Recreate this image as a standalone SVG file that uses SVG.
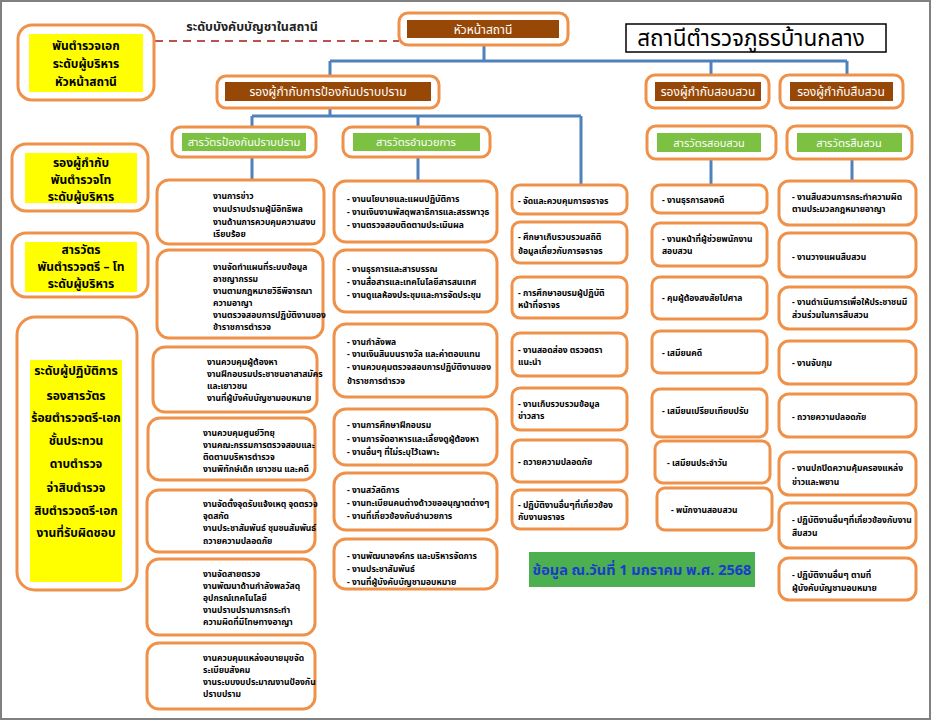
<svg xmlns="http://www.w3.org/2000/svg" width="934" height="721" viewBox="0 0 934 721">
<style>
text{font-family:"Noto Sans Thai","Noto Sans","DejaVu Sans",sans-serif;}
.ob{fill:#fff;stroke:#f0914a;stroke-width:3;}
.brown{fill:#974806;}
.green{fill:#7cc142;}
.yel{fill:#ffff00;}
.hw{fill:#fff;font-size:12px;text-anchor:middle;}
.gw{fill:#fff;font-size:11px;text-anchor:middle;}
.yt{fill:#000;font-size:12px;font-weight:bold;text-anchor:middle;}
.it{fill:#000;font-size:8.5px;font-weight:bold;}
.con{fill:none;stroke:#4f81bd;stroke-width:3;}
</style>
<rect x="1" y="1" width="929" height="718" fill="#fff" stroke="#808080" stroke-width="2"/>

<g id="connectors">
<path class="con" d="M484 45V61M330 61H847M330 61V77M711 61V76M847 61V76"/>
<path class="con" d="M330 108V116M252 116H581M252 116V127M418 116V127M581 116V185"/>
<path class="con" d="M252 157V180M418 157V181M711 159V185M852 159V181"/>
<path d="M155 41H399" fill="none" stroke="#c0504d" stroke-width="2" stroke-dasharray="8,6"/>
</g>

<g id="label-command">
<text x="252" y="31" font-size="12.5" font-weight="bold" text-anchor="middle" fill="#222">ระดับบังคับบัญชาในสถานี</text>
</g>

<g id="title">
<rect x="626" y="24" width="260" height="28" fill="#fff" stroke="#000" stroke-width="1.5"/>
<text x="751" y="46" font-size="22.5" text-anchor="middle" fill="#000">สถานีตำรวจภูธรบ้านกลาง</text>
</g>

<g id="rank-1">
<rect class="ob" x="18" y="25" width="136" height="75" rx="14"/>
<rect class="yel" x="29" y="34" width="114" height="58"/>
<text class="yt" x="86" y="50">พันตำรวจเอก</text>
<text class="yt" x="86" y="68">ระดับผู้บริหาร</text>
<text class="yt" x="86" y="86">หัวหน้าสถานี</text>
</g>

<g id="head">
<rect class="ob" x="399" y="13" width="169" height="32" rx="9"/>
<rect class="brown" x="407" y="20" width="152" height="18"/>
<text class="hw" x="483" y="34">หัวหน้าสถานี</text>
</g>

<g id="dep-prevent">
<rect class="ob" x="217" y="76" width="222" height="32" rx="9"/>
<rect class="brown" x="225" y="82" width="206" height="19"/>
<text class="hw" x="328" y="96">รองผู้กำกับการป้องกันปราบปราม</text>
</g>
<g id="dep-inquiry">
<rect class="ob" x="646" y="75" width="123" height="33" rx="9"/>
<rect class="brown" x="655" y="82" width="106" height="19"/>
<text class="hw" x="708" y="96">รองผู้กำกับสอบสวน</text>
</g>
<g id="dep-investigate">
<rect class="ob" x="780" y="75" width="123" height="33" rx="9"/>
<rect class="brown" x="790" y="82" width="103" height="19"/>
<text class="hw" x="841" y="96">รองผู้กำกับสืบสวน</text>
</g>

<g id="insp-prevent">
<rect class="ob" x="172" y="127" width="144" height="30" rx="9"/>
<rect class="green" x="182" y="133" width="124" height="18"/>
<text class="gw" x="244" y="146">สารวัตรป้องกันปราบปราม</text>
</g>
<g id="insp-admin">
<rect class="ob" x="343" y="127" width="147" height="30" rx="9"/>
<rect class="green" x="353" y="133" width="127" height="18"/>
<text class="gw" x="416" y="146">สารวัตรอำนวยการ</text>
</g>
<g id="insp-inquiry">
<rect class="ob" x="647" y="126" width="129" height="33" rx="9"/>
<rect class="green" x="657" y="133" width="104" height="19"/>
<text class="gw" x="709" y="147">สารวัตรสอบสวน</text>
</g>
<g id="insp-investigate">
<rect class="ob" x="787" y="126" width="125" height="33" rx="9"/>
<rect class="green" x="797" y="133" width="105" height="19"/>
<text class="gw" x="849" y="147">สารวัตรสืบสวน</text>
</g>

<g id="rank-2">
<rect class="ob" x="12" y="144" width="136" height="67" rx="14"/>
<rect class="yel" x="25" y="153" width="112" height="50"/>
<text class="yt" x="81" y="167">รองผู้กำกับ</text>
<text class="yt" x="81" y="184">พันตำรวจโท</text>
<text class="yt" x="81" y="201">ระดับผู้บริหาร</text>
</g>
<g id="rank-3">
<rect class="ob" x="12" y="233" width="136" height="64" rx="14"/>
<rect class="yel" x="25" y="242" width="112" height="50"/>
<text class="yt" x="81" y="254">สารวัตร</text>
<text class="yt" x="81" y="271">พันตำรวจตรี – โท</text>
<text class="yt" x="81" y="288">ระดับผู้บริหาร</text>
</g>
<g id="rank-4">
<rect class="ob" x="17" y="317" width="120" height="273" rx="18"/>
<rect class="yel" x="30" y="360" width="92" height="222"/>
<text class="yt" x="76" y="375">ระดับผู้ปฏิบัติการ</text>
<text class="yt" x="76" y="400">รองสารวัตร</text>
<text class="yt" x="76" y="422">ร้อยตำรวจตรี-เอก</text>
<text class="yt" x="76" y="445">ชั้นประทวน</text>
<text class="yt" x="76" y="468">ดาบตำรวจ</text>
<text class="yt" x="76" y="492">จ่าสิบตำรวจ</text>
<text class="yt" x="76" y="515">สิบตำรวจตรี-เอก</text>
<text class="yt" x="76" y="537">งานที่รับผิดชอบ</text>
</g>

<g id="p1"><rect class="ob" x="157" y="180" width="167" height="64" rx="12"/>
<text class="it" x="213" y="199">งานการข่าว</text><text class="it" x="213" y="212">งานปราบปรามผู้มีอิทธิพล</text><text class="it" x="213" y="225">งานด้านการควบคุมความสงบ</text><text class="it" x="213" y="237">เรียบร้อย</text></g>
<g id="p2"><rect class="ob" x="157" y="250" width="166" height="88" rx="12"/>
<text class="it" x="213" y="270">งานจัดทำแผนที่ระบบข้อมูล</text><text class="it" x="213" y="282">อาชญากรรม</text><text class="it" x="213" y="294">งานตามกฎหมายวิธีพิจารณา</text><text class="it" x="213" y="306">ความอาญา</text><text class="it" x="213" y="318">งานตรวจสอบการปฏิบัติงานของ</text><text class="it" x="213" y="330">ข้าราชการตำรวจ</text></g>
<g id="p3"><rect class="ob" x="153" y="347" width="164" height="65" rx="12"/>
<text class="it" x="207" y="365">งานควบคุมผู้ต้องหา</text><text class="it" x="207" y="377">งานฝึกอบรมประชาชนอาสาสมัคร</text><text class="it" x="207" y="389">และเยาวชน</text><text class="it" x="207" y="401">งานที่ผู้บังคับบัญชามอบหมาย</text></g>
<g id="p4"><rect class="ob" x="148" y="418" width="167" height="62" rx="12"/>
<text class="it" x="203" y="436">งานควบคุมศูนย์วิทยุ</text><text class="it" x="203" y="448">งานคณะกรรมการตรวจสอบและ</text><text class="it" x="203" y="460">ติดตามบริหารตำรวจ</text><text class="it" x="203" y="472">งานพิทักษ์เด็ก เยาวชน และคดี</text></g>
<g id="p5"><rect class="ob" x="147" y="490" width="168" height="62" rx="12"/>
<text class="it" x="203" y="507">งานจัดตั้งจุดรับแจ้งเหตุ จุดตรวจ</text><text class="it" x="203" y="519">จุดสกัด</text><text class="it" x="203" y="531">งานประชาสัมพันธ์ ชุมชนสัมพันธ์</text><text class="it" x="203" y="544">ถวายความปลอดภัย</text></g>
<g id="p6"><rect class="ob" x="147" y="559" width="168" height="76" rx="12"/>
<text class="it" x="203" y="577">งานจัดสายตรวจ</text><text class="it" x="203" y="589">งานพัฒนาด้านกำลังพลวัสดุ</text><text class="it" x="203" y="601">อุปกรณ์เทคโนโลยี</text><text class="it" x="203" y="613">งานปราบปรามการกระทำ</text><text class="it" x="203" y="625">ความผิดที่มีโทษทางอาญา</text></g>
<g id="p7"><rect class="ob" x="147" y="643" width="168" height="66" rx="12"/>
<text class="it" x="203" y="661">งานควบคุมแหล่งอบายมุขจัด</text><text class="it" x="203" y="673">ระเบียบสังคม</text><text class="it" x="203" y="685">งานระบบงบประมาณงานป้องกัน</text><text class="it" x="203" y="697">ปราบปราม</text></g>

<g id="a1"><rect class="ob" x="334" y="181" width="163" height="61" rx="12"/>
<text class="it" x="347" y="202">- งานนโยบายและแผนปฏิบัติการ</text><text class="it" x="347" y="215">- งานเงินงานพัสดุพลาธิการและสรรพาวุธ</text><text class="it" x="347" y="228">- งานตรวจสอบติดตามประเมินผล</text></g>
<g id="a2"><rect class="ob" x="334" y="250" width="163" height="62" rx="12"/>
<text class="it" x="347" y="272">- งานธุรการและสารบรรณ</text><text class="it" x="347" y="285">- งานสื่อสารและเทคโนโลยีสารสนเทศ</text><text class="it" x="347" y="298">- งานดูแลห้องประชุมและการจัดประชุม</text></g>
<g id="a3"><rect class="ob" x="334" y="324" width="163" height="73" rx="12"/>
<text class="it" x="347" y="345">- งานกำลังพล</text><text class="it" x="347" y="357">- งานเงินสินบนรางวัล และค่าตอบแทน</text><text class="it" x="347" y="370">- งานควบคุมตรวจสอบการปฏิบัติงานของ</text><text class="it" x="347" y="384">ข้าราชการตำรวจ</text></g>
<g id="a4"><rect class="ob" x="334" y="409" width="163" height="56" rx="12"/>
<text class="it" x="347" y="428">- งานการศึกษาฝึกอบรม</text><text class="it" x="347" y="442">- งานการจัดอาหารและเลี้ยงดูผู้ต้องหา</text><text class="it" x="347" y="455">- งานอื่นๆ ที่ไม่ระบุไว้เฉพาะ</text></g>
<g id="a5"><rect class="ob" x="334" y="473" width="163" height="57" rx="12"/>
<text class="it" x="347" y="493">- งานสวัสดิการ</text><text class="it" x="347" y="506">- งานทะเบียนคนต่างด้าวขออนุญาตต่างๆ</text><text class="it" x="347" y="519">- งานที่เกี่ยวข้องกับอำนวยการ</text></g>
<g id="a6"><rect class="ob" x="334" y="539" width="163" height="50" rx="12"/>
<text class="it" x="347" y="559">- งานพัฒนาองค์กร และบริหารจัดการ</text><text class="it" x="347" y="572">- งานประชาสัมพันธ์</text><text class="it" x="347" y="585">- งานที่ผู้บังคับบัญชามอบหมาย</text></g>

<g id="t1"><rect class="ob" x="512" y="185" width="115" height="29" rx="8"/><text class="it" x="518" y="204">- จัดและควบคุมการจราจร</text></g>
<g id="t2"><rect class="ob" x="512" y="222" width="115" height="41" rx="8"/><text class="it" x="518" y="240">- ศึกษาเก็บรวบรวมสถิติ</text><text class="it" x="518" y="254">ข้อมูลเกี่ยวกับการจราจร</text></g>
<g id="t3"><rect class="ob" x="512" y="277" width="115" height="41" rx="8"/><text class="it" x="518" y="296">- การศึกษาอบรมผู้ปฏิบัติ</text><text class="it" x="518" y="308">หน้าที่จราจร</text></g>
<g id="t4"><rect class="ob" x="512" y="333" width="115" height="43" rx="8"/><text class="it" x="518" y="353">- งานสอดส่อง ตรวจตรา</text><text class="it" x="518" y="365">แนะนำ</text></g>
<g id="t5"><rect class="ob" x="512" y="388" width="115" height="42" rx="8"/><text class="it" x="518" y="407">- งานเก็บรวบรวมข้อมูล</text><text class="it" x="518" y="419">ข่าวสาร</text></g>
<g id="t6"><rect class="ob" x="512" y="440" width="115" height="42" rx="8"/><text class="it" x="518" y="465">- ถวายความปลอดภัย</text></g>
<g id="t7"><rect class="ob" x="512" y="490" width="115" height="39" rx="8"/><text class="it" x="518" y="508">- ปฏิบัติงานอื่นๆที่เกี่ยวข้อง</text><text class="it" x="518" y="520">กับงานจราจร</text></g>

<g id="s1"><rect class="ob" x="652" y="185" width="115" height="28" rx="8"/><text class="it" x="662" y="203">- งานธุรการลงคดี</text></g>
<g id="s2"><rect class="ob" x="652" y="223" width="115" height="43" rx="8"/><text class="it" x="662" y="242">- งานหน้าที่ผู้ช่วยพนักงาน</text><text class="it" x="662" y="254">สอบสวน</text></g>
<g id="s3"><rect class="ob" x="652" y="277" width="115" height="42" rx="8"/><text class="it" x="662" y="301">- คุมผู้ต้องสงสัยไปศาล</text></g>
<g id="s4"><rect class="ob" x="652" y="331" width="115" height="42" rx="8"/><text class="it" x="662" y="356">- เสมียนคดี</text></g>
<g id="s5"><rect class="ob" x="652" y="389" width="115" height="48" rx="8"/><text class="it" x="662" y="414">- เสมียนเปรียบเทียบปรับ</text></g>
<g id="s6"><rect class="ob" x="655" y="441" width="115" height="42" rx="8"/><text class="it" x="667" y="466">- เสมียนประจำวัน</text></g>
<g id="s7"><rect class="ob" x="657" y="488" width="115" height="42" rx="8"/><text class="it" x="671" y="513">- พนักงานสอบสวน</text></g>

<g id="v1"><rect class="ob" x="779" y="181" width="137" height="44" rx="10"/><text class="it" x="792" y="200">- งานสืบสวนการกระทำความผิด</text><text class="it" x="792" y="212">ตามประมวลกฎหมายอาญา</text></g>
<g id="v2"><rect class="ob" x="779" y="233" width="137" height="44" rx="10"/><text class="it" x="792" y="260">- งานวางแผนสืบสวน</text></g>
<g id="v3"><rect class="ob" x="779" y="287" width="137" height="42" rx="10"/><text class="it" x="792" y="305">- งานดำเนินการเพื่อให้ประชาชนมี</text><text class="it" x="792" y="318">ส่วนร่วมในการสืบสวน</text></g>
<g id="v4"><rect class="ob" x="779" y="341" width="137" height="43" rx="10"/><text class="it" x="792" y="366">- งานจับกุม</text></g>
<g id="v5"><rect class="ob" x="779" y="394" width="137" height="43" rx="10"/><text class="it" x="792" y="420">- ถวายความปลอดภัย</text></g>
<g id="v6"><rect class="ob" x="779" y="452" width="137" height="43" rx="10"/><text class="it" x="792" y="471">- งานปกปิดความคุ้มครองแหล่ง</text><text class="it" x="792" y="485">ข่าวและพยาน</text></g>
<g id="v7"><rect class="ob" x="779" y="503" width="137" height="45" rx="10"/><text class="it" x="792" y="523">- ปฏิบัติงานอื่นๆที่เกี่ยวข้องกับงาน</text><text class="it" x="792" y="536">สืบสวน</text></g>
<g id="v8"><rect class="ob" x="779" y="558" width="137" height="42" rx="10"/><text class="it" x="792" y="578">- ปฏิบัติงานอื่นๆ ตามที่</text><text class="it" x="792" y="591">ผู้บังคับบัญชามอบหมาย</text></g>

<g id="data-date">
<rect x="529" y="552" width="226" height="35" fill="#4caf50"/>
<text x="642" y="575" font-size="14.5" font-weight="bold" text-anchor="middle" fill="#1a3ccc">ข้อมูล ณ.วันที่ 1 มกราคม พ.ศ. 2568</text>
</g>
</svg>
